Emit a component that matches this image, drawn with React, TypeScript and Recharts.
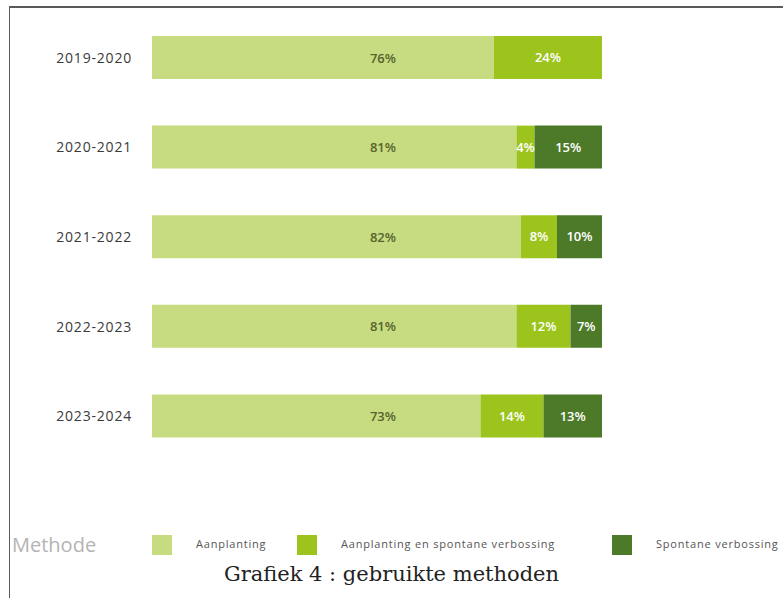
import { Bar, BarChart, LabelList, Legend, XAxis, YAxis } from "recharts";

const PERIODS = ["2019-2020", "2020-2021", "2021-2022", "2022-2023", "2023-2024"];
const AANPLANTING = [76, 81, 82, 81, 73];
const AANPLANTING_SPONTAAN = [24, 4, 8, 12, 14];
const SPONTAAN = [0, 15, 10, 7, 13];

const SERIES = [
  { key: "aanplanting", name: "Aanplanting", color: "#c7dc80", text: "#5b6634" },
  { key: "mix", name: "Aanplanting en spontane verbossing", color: "#9cc41c", text: "#ffffff" },
  { key: "spontaan", name: "Spontane verbossing", color: "#4c7a28", text: "#ffffff" },
];

const rows = PERIODS.map((period, i) => ({
  period,
  aanplanting: AANPLANTING[i],
  mix: AANPLANTING_SPONTAAN[i],
  spontaan: SPONTAAN[i],
}));

const FONT = "'Open Sans', 'DejaVu Sans', sans-serif";

const pct = (v: any) => (v ? `${v}%` : "");

// the first series' labels sit at a fixed spot, not in the segment middle
function FirstLabel(props: any) {
  const { x, y, height, value } = props;
  return (
    <text
      x={x + 231}
      y={y + height / 2}
      textAnchor="middle"
      dominantBaseline="central"
      fontSize={13}
      fontWeight={600}
      fontFamily={FONT}
      fill="#56632e"
    >
      {pct(value)}
    </text>
  );
}

function LegendRow() {
  const swatchX = [152, 297, 612];
  return (
    <div style={{ position: "relative", width: 783, height: 40, fontFamily: FONT }}>
      <span
        style={{
          position: "absolute",
          left: 12,
          top: 6,
          fontSize: 20,
          color: "#b4b4b4",
        }}
      >
        Methode
      </span>
      {SERIES.map((s, i) => (
        <div key={s.key}>
          <div
            style={{
              position: "absolute",
              left: swatchX[i],
              top: 10,
              width: 20,
              height: 20,
              background: s.color,
            }}
          />
          <span
            style={{
              position: "absolute",
              left: swatchX[i] + 44,
              top: 11,
              fontSize: 11,
              letterSpacing: 0.8,
              color: "#555",
              whiteSpace: "nowrap",
            }}
          >
            {s.name}
          </span>
        </div>
      ))}
    </div>
  );
}

export default function App() {
  return (
    <div
      style={{
        position: "absolute",
        left: 0,
        top: 0,
        width: 783,
        height: 598,
        background: "#fff",
        overflow: "hidden",
      }}
    >
      <div
        style={{
          position: "absolute",
          left: 9,
          top: 6,
          width: 774,
          height: 592,
          borderTop: "2px solid #5a5a5a",
          borderLeft: "1px solid #5a5a5a",
          boxSizing: "border-box",
        }}
      />
      <BarChart
        width={783}
        height={598}
        data={rows}
        layout="vertical"
        margin={{ top: 13, right: 181, left: 0, bottom: 97 }}
        barSize={43}
      >
        <XAxis type="number" domain={[0, 100]} hide />
        <YAxis
          type="category"
          dataKey="period"
          width={152}
          axisLine={false}
          tickLine={false}
          tickSize={0}
          tickMargin={20}
          tick={{ fontSize: 14, fill: "#3a3a3a", fontFamily: FONT, letterSpacing: 0.8 }}
        />
        {SERIES.map((s, i) => (
          <Bar
            key={s.key}
            dataKey={s.key}
            name={s.name}
            stackId="m"
            fill={s.color}
            isAnimationActive={false}
          >
            {i === 0 ? (
              <LabelList dataKey={s.key} content={FirstLabel} />
            ) : (
              <LabelList
                dataKey={s.key}
                position="center"
                formatter={pct}
                fill={s.text}
                fontSize={13}
                fontWeight={600}
                fontFamily={FONT}
              />
            )}
          </Bar>
        ))}
        <Legend
          content={() => <LegendRow />}
          wrapperStyle={{ position: "absolute", left: 0, top: 525, width: 783 }}
        />
      </BarChart>
      <div
        style={{
          position: "absolute",
          left: 0,
          top: 562,
          width: 783,
          textAlign: "center",
          fontFamily: "'DejaVu Serif', serif",
          fontSize: 21,
          color: "#222",
        }}
      >
        Grafiek 4 : gebruikte methoden
      </div>
    </div>
  );
}
